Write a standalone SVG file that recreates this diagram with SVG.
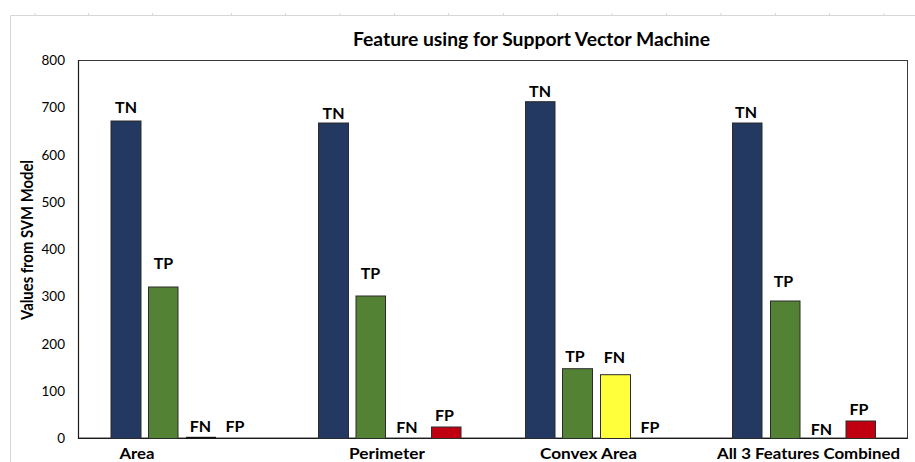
<svg xmlns="http://www.w3.org/2000/svg" width="915" height="462" viewBox="0 0 915 462">
  <style>
    .t { font-family: Lato, "Liberation Sans", sans-serif; fill: #000; }
    .title { font-size: 18px; font-weight: bold; }
    .tick { font-size: 13.5px; text-anchor: end; }
    .cat { font-size: 16px; font-weight: bold; text-anchor: middle; }
    .lbl { font-size: 16px; font-weight: bold; text-anchor: middle; }
    .ylab { font-size: 17.5px; font-weight: bold; text-anchor: middle; }
    .bar { stroke: #2b2b2b; stroke-width: 1; }
    .tn { fill: #233962; }
    .tp { fill: #548235; }
    .fn { fill: #ffff3c; }
    .fp { fill: #c00010; }
  </style>

  <rect width="915" height="462" fill="#fff"/>

  <!-- sheet frame with column marks -->
  <g id="frame" stroke="#d6d6d6" stroke-width="1" fill="none">
    <path d="M10.5 462V15.5H915"/>
    <path d="M35 13v2M88.5 13v2M152.5 13v2M231.5 13v2M285.5 13v2M340 13v2M394.5 13v2M448.5 13v2M503.5 13v2M557.5 13v2M612 13v2M666.5 13v2M721 13v2M775.5 13v2M829.5 13v2M884 13v2"/>
  </g>

  <text class="t title" x="531.5" y="46" text-anchor="middle" textLength="357" lengthAdjust="spacingAndGlyphs">Feature using for Support Vector Machine</text>

  <!-- plot frame -->
  <g id="axes" fill="none">
    <rect x="78.5" y="60.5" width="829" height="377.5" stroke="#3a3a3a" stroke-width="1"/>
    <path d="M78.5 60v378.5H908" stroke="#1a1a1a" stroke-width="1.2"/>
  </g>

  <!-- value scale -->
  <g id="y-ticks">
    <text class="t tick" x="65" y="65">800</text>
    <text class="t tick" x="65" y="112">700</text>
    <text class="t tick" x="65" y="159.5">600</text>
    <text class="t tick" x="65" y="206.5">500</text>
    <text class="t tick" x="65" y="254">400</text>
    <text class="t tick" x="65" y="301">300</text>
    <text class="t tick" x="65" y="348.5">200</text>
    <text class="t tick" x="65" y="395.5">100</text>
    <text class="t tick" x="65" y="443">0</text>
  </g>
  <text class="t ylab" transform="translate(33 240) rotate(-90)" textLength="160" lengthAdjust="spacingAndGlyphs">Values from SVM Model</text>

  <!-- Area -->
  <g id="area">
    <rect class="bar tn" x="111" y="121" width="30" height="317.5"/>
    <rect class="bar tp" x="148.5" y="287" width="29.5" height="151.5"/>
    <rect x="186" y="436.8" width="30" height="1.5" fill="#111"/>
    <text class="t lbl" x="126" y="113">TN</text>
    <text class="t lbl" x="163.5" y="269">TP</text>
    <text class="t lbl" x="200.5" y="432">FN</text>
    <text class="t lbl" x="235" y="432">FP</text>
    <text class="t cat" x="137" y="458.5" textLength="35" lengthAdjust="spacingAndGlyphs">Area</text>
  </g>

  <!-- Perimeter -->
  <g id="perimeter">
    <rect class="bar tn" x="318.5" y="123" width="30" height="315.5"/>
    <rect class="bar tp" x="356" y="296" width="29.5" height="142.5"/>
    <rect class="bar fp" x="431.5" y="427" width="29.5" height="11.5"/>
    <text class="t lbl" x="333.5" y="118.5">TN</text>
    <text class="t lbl" x="370.5" y="279">TP</text>
    <text class="t lbl" x="407" y="432.5">FN</text>
    <text class="t lbl" x="444.5" y="421">FP</text>
    <text class="t cat" x="387" y="458.5" textLength="76" lengthAdjust="spacingAndGlyphs">Perimeter</text>
  </g>

  <!-- Convex Area -->
  <g id="convex-area">
    <rect class="bar tn" x="525.5" y="101.7" width="29.5" height="336.8"/>
    <rect class="bar tp" x="562.5" y="368.7" width="30" height="69.8"/>
    <rect class="bar fn" x="600.5" y="374.7" width="30" height="63.8"/>
    <text class="t lbl" x="540" y="96.5">TN</text>
    <text class="t lbl" x="575" y="361.5">TP</text>
    <text class="t lbl" x="614.5" y="363">FN</text>
    <text class="t lbl" x="650" y="433">FP</text>
    <text class="t cat" x="588.5" y="458.5" textLength="97" lengthAdjust="spacingAndGlyphs">Convex Area</text>
  </g>

  <!-- All 3 Features Combined -->
  <g id="all-three">
    <rect class="bar tn" x="732.5" y="123" width="29.5" height="315.5"/>
    <rect class="bar tp" x="770.5" y="301" width="29.5" height="137.5"/>
    <rect class="bar fp" x="846" y="421" width="29.5" height="17.5"/>
    <text class="t lbl" x="746" y="117.5">TN</text>
    <text class="t lbl" x="783.5" y="286.5">TP</text>
    <text class="t lbl" x="821.5" y="435">FN</text>
    <text class="t lbl" x="859" y="415">FP</text>
    <text class="t cat" x="808.5" y="458.5" textLength="183" lengthAdjust="spacingAndGlyphs">All 3 Features Combined</text>
  </g>
</svg>
